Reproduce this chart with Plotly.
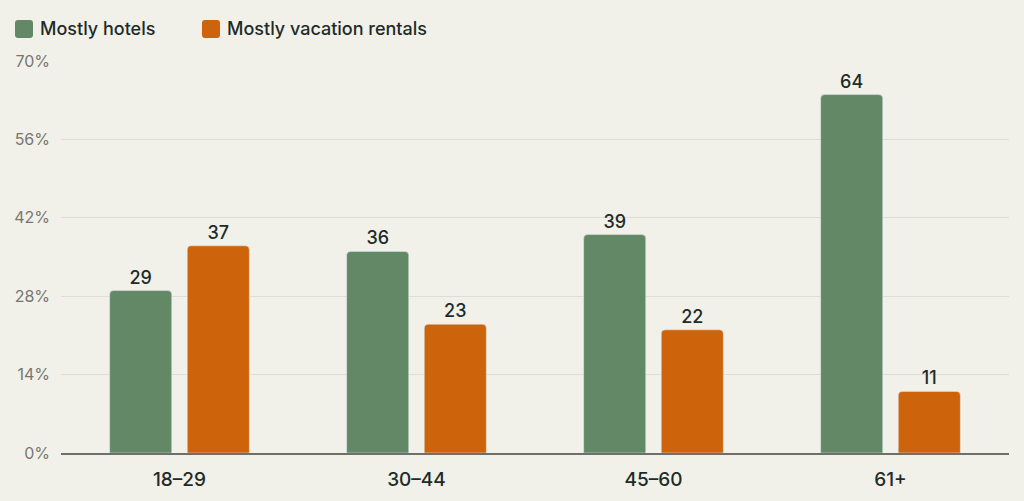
import plotly.graph_objects as go

categories = ["18–29", "30–44", "45–60", "61+"]
hotels = [29, 36, 39, 64]
rentals = [37, 23, 22, 11]
series_names = ["Mostly hotels", "Mostly vacation rentals"]
tick_vals = [0, 14, 28, 42, 56, 70]
tick_text = ["0%", "14%", "28%", "42%", "56%", "70%"]

GREEN = "#638866"
ORANGE = "#CD640C"
BG = "#F1F1EA"
FONT = "Inter"
DARK = "#1E2B28"

# plot area geometry (pixels)
L, R, T, B = 61, 15, 61, 48
W, H = 1024, 501
PW, PH = W - L - R, H - T - B

def px_x(px):
    return (px - L) / PW

def px_y(py):
    return (H - B - py) / PH

def rounded_square(x0, y0, size, r):
    x1, y1 = x0 + size, y0 + size
    pts = [
        ("M", x0 + r, y0), ("L", x1 - r, y0), ("Q", x1, y0, x1, y0 + r),
        ("L", x1, y1 - r), ("Q", x1, y1, x1 - r, y1), ("L", x0 + r, y1),
        ("Q", x0, y1, x0, y1 - r), ("L", x0, y0 + r), ("Q", x0, y0, x0 + r, y0),
    ]
    out = []
    for p in pts:
        cmd, coords = p[0], p[1:]
        conv = []
        for i in range(0, len(coords), 2):
            conv.append(f"{px_x(coords[i]):.5f},{px_y(coords[i + 1]):.5f}")
        out.append(cmd + " ".join(conv))
    return " ".join(out) + " Z"

fig = go.Figure()
for name, vals, col in [(series_names[0], hotels, GREEN), (series_names[1], rentals, ORANGE)]:
    fig.add_trace(go.Bar(
        name=name, x=categories, y=vals, marker_color=col,
        text=vals, textposition="outside", cliponaxis=False,
        textfont=dict(size=18, color=DARK, family=FONT, weight=500),
        showlegend=False,
    ))

# manual legend (rounded squares + labels)
legend_items = [(series_names[0], GREEN, 15), (series_names[1], ORANGE, 202)]
for name, col, x0 in legend_items:
    fig.add_shape(
        type="path", xref="paper", yref="paper",
        path=rounded_square(x0, 20, 18, 3),
        fillcolor=col, line=dict(width=0), layer="above",
    )
    fig.add_annotation(
        xref="paper", yref="paper", x=px_x(x0 + 23), y=px_y(29),
        xanchor="left", yanchor="middle", text=name, showarrow=False,
        font=dict(size=18, color=DARK, family=FONT, weight=500),
    )

fig.update_layout(
    width=W, height=H,
    margin=dict(l=L, r=R, t=T, b=B, autoexpand=False),
    paper_bgcolor=BG, plot_bgcolor=BG,
    barmode="group", bargap=0.345, bargroupgap=0.2,
    barcornerradius=4,
    font=dict(family=FONT, color=DARK),
    showlegend=False,
)
fig.update_xaxes(
    showgrid=False, showline=True, linecolor="#6E6E6A", linewidth=2,
    tickfont=dict(size=19, color=DARK, family=FONT, weight=500), ticks="",
    ticklabelstandoff=8, automargin=False,
)
fig.update_yaxes(
    range=[0, 70], tickvals=tick_vals, ticktext=tick_text,
    showgrid=True, gridcolor="#DEDED7", gridwidth=1, zeroline=False,
    tickfont=dict(size=16, color="#777772", family=FONT), ticks="",
    ticklabelstandoff=10, automargin=False,
)

fig.write_html("out.html")
